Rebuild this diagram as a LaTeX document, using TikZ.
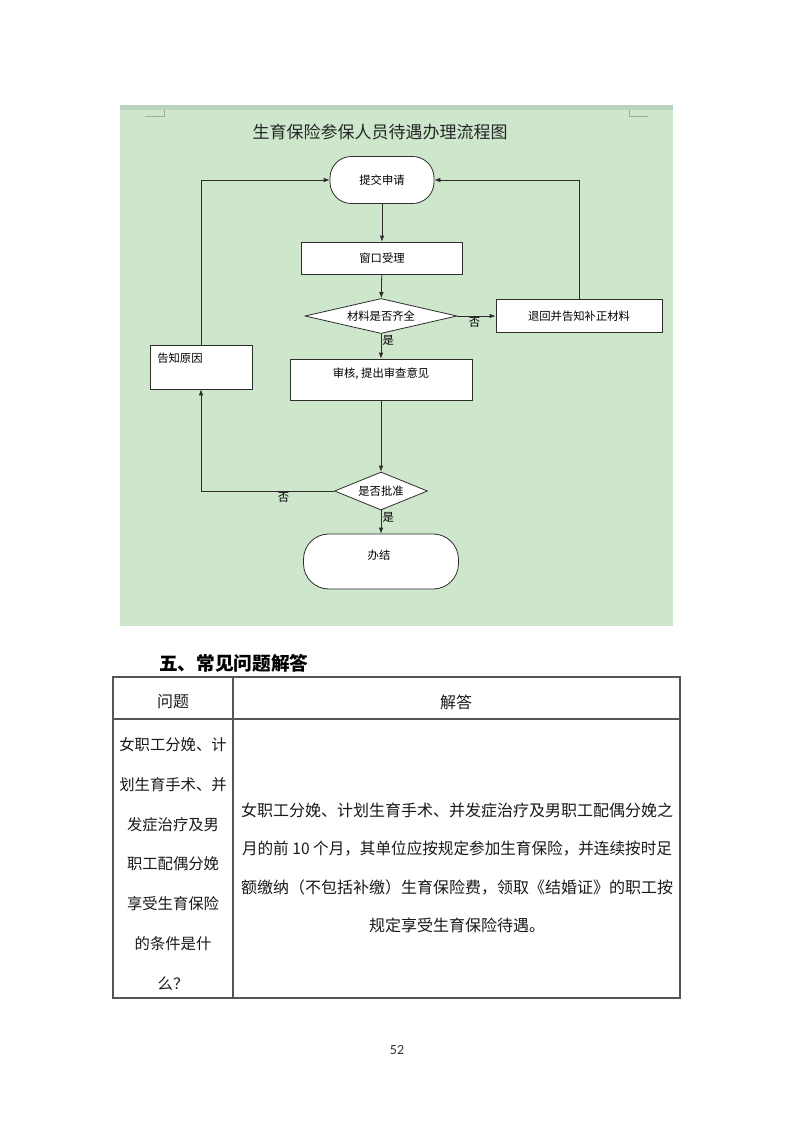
\documentclass[tikz,border=0pt]{standalone}
\usepackage{fontspec}
\usepackage{graphicx}
\setmainfont{Noto Sans CJK SC}
\newfontfamily\pagefont{Carlito}
\usetikzlibrary{positioning}
\usetikzlibrary{shapes.geometric}
\usetikzlibrary{arrows.meta}

\definecolor{panelgreen}{RGB}{206,231,204}
\definecolor{panelband}{RGB}{184,212,190}
\definecolor{flowline}{RGB}{45,45,45}
\definecolor{tableline}{RGB}{85,85,85}

\begin{document}
\begin{tikzpicture}[x=0.75pt,y=-0.75pt,>={Latex[length=4.5pt,width=3.5pt]},
	flow/.style={draw=flowline,line width=0.6pt},
	box font/.style={font=\fontsize{8.5}{10}\selectfont},
	proc box/.style={rectangle,draw=flowline,fill=white,line width=0.6pt,inner sep=0pt,box font},
	term box/.style={proc box,rounded corners=16pt},
	decision/.style={diamond,draw=flowline,fill=white,line width=0.6pt,inner sep=0pt,box font},
	cell text/.style={font=\fontsize{12}{14}\selectfont,text=black!90,inner sep=0pt}]

	\useasboundingbox[fill=white] (0,0) rectangle (793,1122);

	%the screenshot of the flow chart sits on a light green panel
	\begin{scope}
		\fill[panelgreen] (120,105) rectangle (673,626);
		\fill[panelband] (120,105) rectangle (673,110);
		\draw[gray!70,line width=0.5pt] (145,116) -- (164,116) -- (164,110);
		\draw[gray!70,line width=0.5pt] (648,116) -- (629,116) -- (629,110);
		\node[font=\fontsize{12.75}{15}\selectfont,text=black!85] (title) at (380,132) {生育保险参保人员待遇办理流程图};
	\end{scope}

	%boxes of the chart
	\begin{scope}
		\node[term box,minimum width=78pt,minimum height=35.25pt] (submit) at (382,180) {提交申请};
		\node[proc box,minimum width=120.75pt,minimum height=24pt] (window) at (382,258) {窗口受理};
		\node[decision,aspect=4.34,minimum width=114pt,minimum height=26.25pt] (complete) at (381,316) {材料是否齐全};
		\node[proc box,minimum width=124.5pt,minimum height=24.75pt] (sendback) at (579,316) {退回并告知补正材料};
		\node[proc box,minimum width=136.5pt,minimum height=30.75pt] (review) at (381,379.5) {};
		\node[box font,inner sep=0pt] (reviewtext) at (381,374) {审核, 提出审查意见};
		\node[proc box,minimum width=76.5pt,minimum height=33pt] (reason) at (201,367) {};
		\node[box font,inner sep=0pt,anchor=west] (reasontext) at (157,358) {告知原因};
		\node[decision,aspect=2.45,minimum width=69.75pt,minimum height=28.5pt] (approve) at (381,491) {是否批准};
		\node[term box,rounded corners=19pt,minimum width=116.25pt,minimum height=41.25pt] (finish) at (381,561.5) {};
		\node[box font,inner sep=0pt] (finishtext) at (379,555) {办结};
	\end{scope}

	%connectors of the chart
	\begin{scope}[every node/.style={box font,inner sep=1pt}]
		\draw[flow,->] (submit) -- (window);
		\draw[flow,->] (window) -- (complete);
		\draw[flow,->] (complete.east) -- node[below,pos=0.45] {否} (sendback.west);
		\draw[flow,->] (complete.south) -- node[right,pos=0.25] {是} (review.north);
		\draw[flow,->] (review) -- (approve);
		\draw[flow,->] (approve.south) -- node[right,pos=0.3] {是} (finish.north);
		\draw[flow,->] (approve.west) -- node[below,pos=0.38] {否} (approve.west -| reason.south) -- (reason.south);
		\draw[flow,->] (reason.north) |- (submit.west);
		\draw[flow,->] (sendback.north) |- (submit.east);
	\end{scope}

	%the question and answer table below
	\begin{scope}
		\node[font=\fontsize{14}{16}\selectfont\bfseries,anchor=west,inner sep=0pt] (heading) at (159,663) {五、常见问题解答};
		\draw[tableline,line width=0.8pt] (113,677) rectangle (680,998);
		\draw[tableline,line width=0.8pt] (113,719) -- (680,719);
		\draw[tableline,line width=0.8pt] (233,677) -- (233,998);
		\node[cell text] (qhead) at (173,702) {问题};
		\node[cell text] (ahead) at (456,702) {解答};
		\foreach \row [count=\i] in {女职工分娩、计,划生育手术、并,发症治疗及男,职工配偶分娩,享受生育保险,的条件是什,么？}
			\node[cell text,font=\fontsize{11.5}{14}\selectfont] (q\i) at (173,{745+39.7*(\i-1)}) {\row};
		\foreach \row [count=\i] in {女职工分娩、计划生育手术、并发症治疗及男职工配偶分娩之,\scalebox{0.975}[1]{月的前 10 个月，其单位应按规定参加生育保险，并连续按时足},额缴纳（不包括补缴）生育保险费，领取《结婚证》的职工按,规定享受生育保险待遇。}
			\node[cell text] (a\i) at (457,{810+38.6*(\i-1)}) {\row};
	\end{scope}

	\node[font=\pagefont\fontsize{10.5}{12}\selectfont,text=black!80] (pagenum) at (397,1050) {52};
\end{tikzpicture}
\end{document}
